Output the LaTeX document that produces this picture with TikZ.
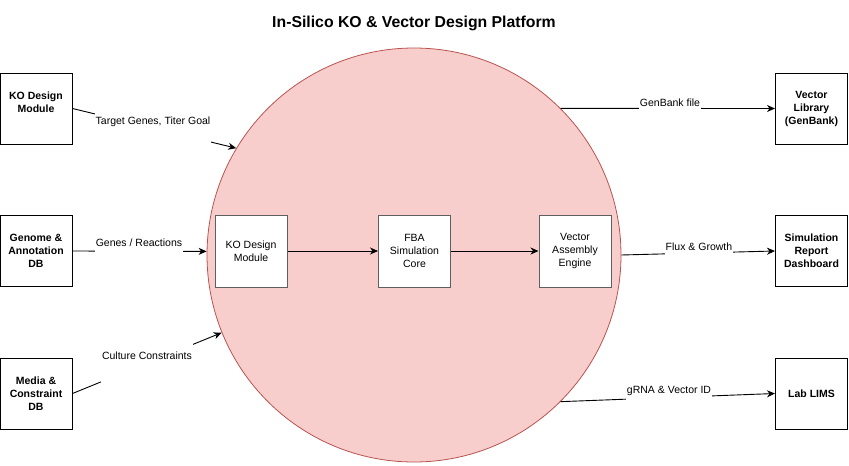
\documentclass[tikz,border=0pt]{standalone}
\usepackage{fontspec}
\setmainfont{Liberation Sans}
\usetikzlibrary{arrows.meta}
\tikzset{>={Stealth[length=8pt,width=7pt,inset=2.5pt]}}
\definecolor{platfill}{HTML}{F8CECC}
\definecolor{platdraw}{HTML}{B85450}
\definecolor{modgray}{HTML}{5F5F5F}

\tikzset{
  extbox/.style={draw=black, line width=1pt, minimum width=72pt, minimum height=71pt,
    align=center, inner sep=1pt, font=\fontsize{10.5}{13}\selectfont\bfseries},
  modbox/.style={draw=modgray, fill=white, line width=1pt, minimum width=72pt, minimum height=72pt,
    align=center, inner sep=1pt, font=\fontsize{10.5}{13}\selectfont},
  flow/.style={->, line width=0.9pt},
  flowlbl/.style={fill=white, inner xsep=1pt, inner ysep=0pt, font=\fontsize{10.5}{13}\selectfont},
}

\begin{document}
\begin{tikzpicture}[x=1pt,y=-1pt]
  \useasboundingbox (0,0) rectangle (849,466);

  % titel
  \node[font=\fontsize{15.8}{18}\selectfont\bfseries] (title) at (414,23) {In-Silico KO \& Vector Design Platform};

  % plattform
  \node[circle, draw=platdraw, fill=platfill, line width=0.8pt, minimum size=414pt, inner sep=0pt] (plat) at (414,255) {};

  % externe quellen
  \node[extbox] (koExt) at (36,108.5) {KO Design\\Module\\~};
  \node[extbox] (genome) at (36,251) {Genome \&\\Annotation\\DB};
  \node[extbox] (media) at (36,393.5) {Media \&\\Constraint\\DB};

  % externe ziele
  \node[extbox] (vecLib) at (811.5,108.5) {Vector\\Library\\(GenBank)};
  \node[extbox] (simRep) at (811.5,251) {Simulation\\Report\\Dashboard};
  \node[extbox] (lims) at (811.5,393.5) {Lab LIMS};

  % module im kreis
  \node[modbox] (koMod) at (251,251) {KO Design\\Module};
  \node[modbox] (fba) at (414.5,251) {FBA\\Simulation\\Core};
  \node[modbox] (vecAsm) at (575,251) {Vector\\Assembly\\Engine};

  % verbindungen
  \draw[flow] (koExt.east) -- (plat.149);
  \draw[flow] (genome.east) -- (plat.179);
  \draw[flow] (media.east) -- (plat.202);
  \draw[flow] (koMod) -- (fba);
  \draw[flow] (fba) -- (vecAsm);
  \draw[flow] (plat.45) -- (vecLib.west);
  \draw[flow] (plat.east) -- (simRep.west);
  \draw[flow] (plat.315) -- (lims.west);

  % beschriftungen
  \node[flowlbl, minimum height=42pt] (lblTarget) at (153,122) {Target Genes, Titer Goal};
  \node[flowlbl, minimum height=20pt] (lblGenes) at (139,243) {Genes / Reactions};
  \node[flowlbl, minimum height=57pt] (lblCulture) at (147,356) {Culture Constraints};
  \node[flowlbl, minimum height=16pt] (lblGenBank) at (670,103) {GenBank file};
  \node[flowlbl, minimum height=18pt] (lblFlux) at (699,247) {Flux \& Growth};
  \node[flowlbl, minimum height=22pt] (lblGrna) at (669,391) {gRNA \& Vector ID};
\end{tikzpicture}
\end{document}
